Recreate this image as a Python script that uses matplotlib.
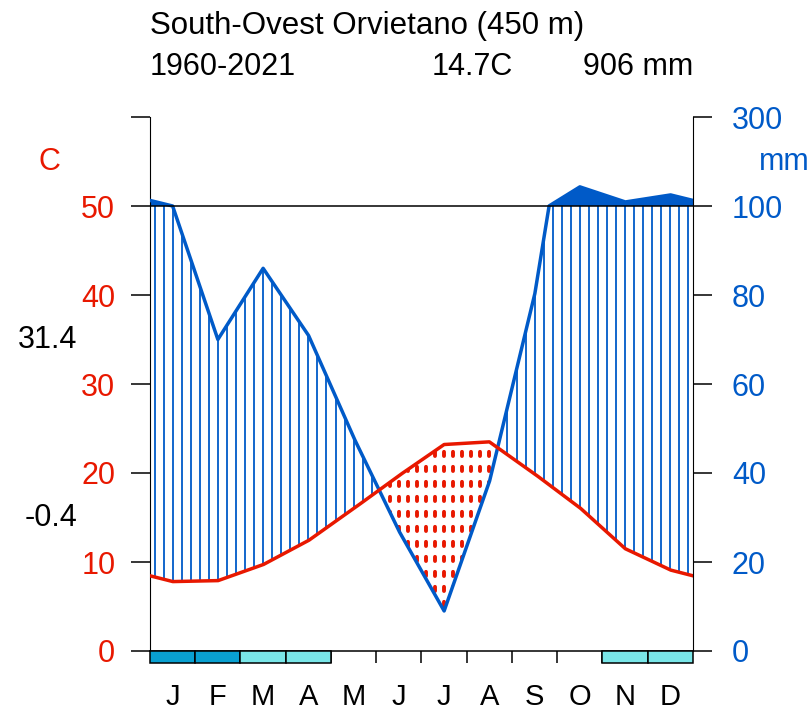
import numpy as np
import matplotlib.pyplot as plt
from matplotlib.path import Path

plt.rcParams['font.family'] = ['Liberation Sans', 'DejaVu Sans']
plt.rcParams['lines.scale_dashes'] = False

station = 'South-Ovest Orvietano (450 m)'
period = '1960-2021'
months = ['J', 'F', 'M', 'A', 'M', 'J', 'J', 'A', 'S', 'O', 'N', 'D']
temp = [7.8, 7.9, 9.7, 12.4, 16.0, 19.7, 23.2, 23.5, 19.9, 16.1, 11.5, 9.1]
prec = [100, 70, 86, 71, 48, 27, 9, 38, 80, 143, 109, 125]
abs_max = 31.4
abs_min = -0.4
# 2 = sure frost, 1 = probable frost, 0 = none
frost = [2, 2, 1, 1, 0, 0, 0, 0, 0, 0, 1, 1]

tcol = '#e81800'
pcol = '#005ac8'
frost_cols = {1: '#79e6e8', 2: '#09a0d1'}

W, H = 812, 715
fig = plt.figure(figsize=(W / 100, H / 100), dpi=100)
px = 534 / 60  # pixels per degree
ax = fig.add_axes([150 / W, (H - 651 - 2 * px) / H, 543 / W, 62 * px / H])
ax.set_xlim(0, 12)
ax.set_ylim(-2, 60)


def scale_p(p):
    p = np.asarray(p, dtype=float)
    return np.where(p > 100, 50 + (p - 100) / 20, p / 2)


# months extended with Dec before and Jan after
x = np.arange(14) - 0.5
tt = np.array([temp[-1]] + temp + [temp[0]])
pp = np.array([prec[-1]] + prec + [prec[0]])

# coarse grid for the hatching, fine grid for the curves
xi = np.linspace(-0.5, 12.5, 66)
ti = np.interp(xi, x, tt)
pi = scale_p(np.interp(xi, x, pp))
xf = np.linspace(-0.5, 12.5, 2601)
tf = np.interp(xf, x, tt)
pf = scale_p(np.interp(xf, x, pp))

inside = (xi > 0) & (xi < 12)
xh, th, ph = xi[inside], ti[inside], pi[inside]

# wet period: vertical blue lines
wet = ph > th
ax.vlines(xh[wet], th[wet], np.minimum(ph[wet], 50), color=pcol, lw=1.3, zorder=2)

# very wet (>100 mm): solid
ax.fill_between(xf, 50, pf, where=pf > 50, interpolate=True, color=pcol, lw=0, zorder=2)

# dry period: red dotted lines clipped to the dry polygon
dry_poly = ax.fill_between(xf, pf, tf, where=pf < tf, interpolate=True,
                           facecolor='none', edgecolor='none')
dry_path = Path.make_compound_path(*dry_poly.get_paths())
dots = ax.vlines(xh, 0, 35, color=tcol, lw=2.8, linestyles=[(0, (3.0, 7.8))], zorder=2)
dots.set_capstyle('round')
dots.set_clip_path(dry_path, ax.transData)

ax.plot(xf, pf, color=pcol, lw=2.5, zorder=3)
ax.plot(xf, tf, color=tcol, lw=2.5, zorder=4)

ax.plot([0, 12], [50, 50], color='black', lw=1.1, zorder=3)
ax.plot([0, 12], [0, 0], color='black', lw=1.1, zorder=3, clip_on=False)

# frost boxes and month separators
ax.vlines(np.arange(1, 12), -1.3, 0, color='black', lw=1.1, clip_on=False)
for i, f in enumerate(frost):
    if f:
        ax.add_patch(plt.Rectangle((i, -1.3), 1, 1.3, facecolor=frost_cols[f],
                                   edgecolor='black', lw=1.1, clip_on=False, zorder=3))

for s in ['top', 'bottom', 'right']:
    ax.spines[s].set_visible(False)
ax.spines['left'].set_bounds(0, 60)
ax.set_xticks([])
ax.set_yticks(range(0, 61, 10))
ax.set_yticklabels(['0', '10', '20', '30', '40', '50', ''])
ax.tick_params(axis='y', length=14, width=1.1, pad=11, labelsize=22, labelcolor=tcol)

ax2 = ax.twinx()
ax2.set_ylim(ax.get_ylim())
for s in ['top', 'bottom', 'left']:
    ax2.spines[s].set_visible(False)
ax2.spines['right'].set_bounds(0, 60)
ax2.set_yticks(range(0, 61, 10))
ax2.set_yticklabels(['0', '20', '40', '60', '80', '100', '300'])
ax2.tick_params(axis='y', length=14, width=1.1, pad=14, labelsize=22, labelcolor=pcol)

for i, m in enumerate(months):
    ax.text(i + 0.5, -46 / px, m, ha='center', va='center', fontsize=21, clip_on=False)

ax.annotate('C', xy=(49 / W, 55), xycoords=('figure fraction', 'data'),
            ha='center', va='center', fontsize=22, color=tcol, annotation_clip=False)
ax.annotate('mm', xy=(784 / W, 55), xycoords=('figure fraction', 'data'),
            ha='center', va='center', fontsize=22, color=pcol, annotation_clip=False)
ax.annotate(f'{abs_max:.1f}', xy=(77 / W, 35), xycoords=('figure fraction', 'data'),
            ha='right', va='center', fontsize=22, annotation_clip=False)
ax.annotate(f'{abs_min:.1f}', xy=(77 / W, 15), xycoords=('figure fraction', 'data'),
            ha='right', va='center', fontsize=22, annotation_clip=False)

fig.text(150 / W, 1 - 34 / H, station, ha='left', va='baseline', fontsize=22.5)
fig.text(150 / W, 1 - 75 / H, period, ha='left', va='baseline', fontsize=22)
fig.text(432 / W, 1 - 75 / H, f'{np.mean(temp):.1f}C', ha='left', va='baseline', fontsize=22)
fig.text(693 / W, 1 - 75 / H, f'{round(sum(prec))} mm', ha='right', va='baseline', fontsize=22)

fig.savefig('out.png', dpi=100)
